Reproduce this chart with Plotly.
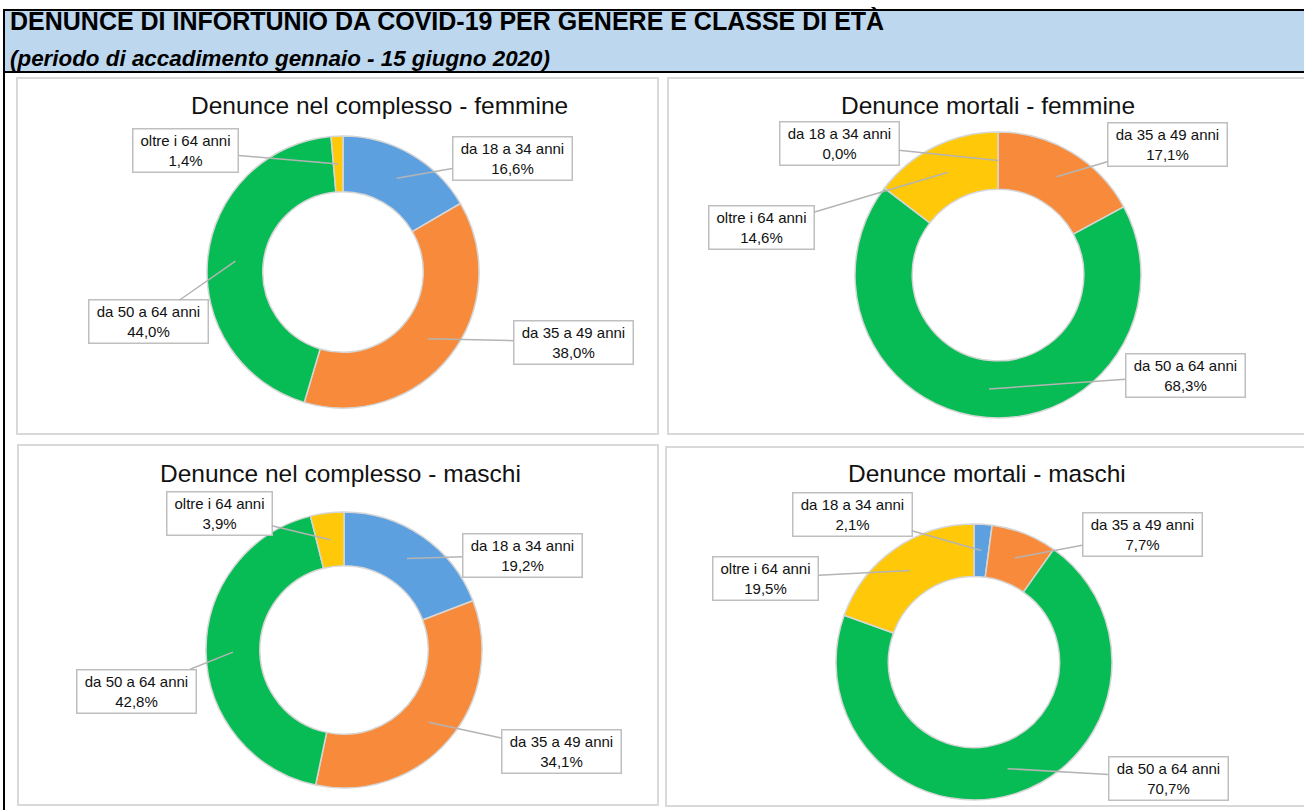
import math
import plotly.graph_objects as go

W, H = 1304, 810

# ---------------- data ----------------
categories = ["da 18 a 34 anni", "da 35 a 49 anni", "da 50 a 64 anni", "oltre i 64 anni"]
femmine_complesso = [16.6, 38.0, 44.0, 1.4]
femmine_mortali = [0.0, 17.1, 68.3, 14.6]
maschi_complesso = [19.2, 34.1, 42.8, 3.9]
maschi_mortali = [2.1, 7.7, 70.7, 19.5]
chart_titles = [
    "Denunce nel complesso - femmine",
    "Denunce mortali - femmine",
    "Denunce nel complesso - maschi",
    "Denunce mortali - maschi",
]
main_title = "DENUNCE DI INFORTUNIO DA COVID-19 PER GENERE E CLASSE DI ETÀ"
subtitle = "(periodo di accadimento gennaio - 15 giugno 2020)"

# ---------------- styles / layout (pixels) ----------------
colors = ["#5DA0E0", "#F78B3B", "#08BC55", "#FFC90A"]
FONT = "Liberation Sans, Arial, sans-serif"

panels = [
    dict(values=femmine_complesso, title=chart_titles[0], rect=(17, 78, 658, 434),
         center=(343, 272), r=136, hole=0.59, title_pos=(379, 105),
         boxes=[(512, 158), (573, 342), (148, 322), (186, 151)]),
    dict(values=femmine_mortali, title=chart_titles[1], rect=(668, 78, 1312, 434),
         center=(998, 275), r=143, hole=0.60, title_pos=(988, 105),
         boxes=[(839, 144), (1167, 144), (1185, 375), (761, 228)]),
    dict(values=maschi_complesso, title=chart_titles[2], rect=(18, 445, 658, 805),
         center=(344, 650), r=138, hole=0.61, title_pos=(340, 473),
         boxes=[(522, 555), (561, 751), (136, 691), (219, 513)]),
    dict(values=maschi_mortali, title=chart_titles[3], rect=(666, 447, 1312, 806),
         center=(974, 662), r=138, hole=0.62, title_pos=(987, 473),
         boxes=[(852, 514), (1142, 534), (1168, 778), (766, 578)]),
]


def px(x):
    return x / W


def py(y):
    return 1 - y / H


fig = go.Figure()
shapes = []
annotations = []

# header band and frame lines
shapes.append(dict(type="rect", xref="paper", yref="paper", x0=px(4), x1=px(1310), y0=py(72), y1=py(10),
                   fillcolor="#BDD7EE", line=dict(color="#000000", width=2), layer="below"))
shapes.append(dict(type="line", xref="paper", yref="paper", x0=px(4), x1=px(4), y0=py(72), y1=py(812),
                   line=dict(color="#000000", width=2)))
annotations.append(dict(text="<b>" + main_title + "</b>", xref="paper", yref="paper", x=px(8), y=py(21),
                        xanchor="left", yanchor="middle", showarrow=False,
                        font=dict(family=FONT, size=25, color="#000000")))
annotations.append(dict(text="<b><i>" + subtitle + "</i></b>", xref="paper", yref="paper", x=px(8), y=py(58),
                        xanchor="left", yanchor="middle", showarrow=False,
                        font=dict(family=FONT, size=22.4, color="#000000")))

for p in panels:
    x0, y0, x1, y1 = p["rect"]
    shapes.append(dict(type="rect", xref="paper", yref="paper", x0=px(x0), x1=px(x1), y0=py(y1), y1=py(y0),
                       line=dict(color="#D9D9D9", width=2), fillcolor="rgba(0,0,0,0)", layer="below"))
    cx, cy = p["center"]
    r = p["r"]
    vals = p["values"]
    fig.add_trace(go.Pie(
        labels=categories, values=vals, hole=p["hole"], sort=False, direction="clockwise",
        rotation=0, textinfo="none", hoverinfo="label+percent", showlegend=False,
        marker=dict(colors=colors, line=dict(color="#D6D6D6", width=1.5)),
        domain=dict(x=[px(cx - r), px(cx + r)], y=[py(cy + r), py(cy - r)]),
    ))
    annotations.append(dict(text=p["title"], xref="paper", yref="paper", x=px(p["title_pos"][0]),
                            y=py(p["title_pos"][1]), xanchor="center", yanchor="middle", showarrow=False,
                            font=dict(family=FONT, size=24.5, color="#111111")))
    total = sum(vals)
    cum = 0.0
    rmid = r * (1 + p["hole"]) / 2
    for i, (cat, v) in enumerate(zip(categories, vals)):
        mid = (cum + v / 2) / total * 2 * math.pi
        cum += v
        tx = cx + rmid * math.sin(mid)
        ty = cy - rmid * math.cos(mid)
        bx, by = p["boxes"][i]
        label = cat + "<br>" + f"{v:.1f}".replace(".", ",") + "%"
        annotations.append(dict(
            text=label, xref="paper", yref="paper", x=px(tx), y=py(ty),
            axref="pixel", ayref="pixel", ax=bx - tx, ay=by - ty,
            showarrow=True, arrowhead=0, arrowwidth=1.5, arrowcolor="#B4B4B4", standoff=0,
            bgcolor="#FFFFFF", bordercolor="#BFBFBF", borderwidth=1.5, borderpad=2,
            width=114 if cat.startswith("da") else 100, height=38, align="center",
            font=dict(family=FONT, size=15, color="#111111"),
        ))

fig.update_layout(
    width=W, height=H, margin=dict(l=0, r=0, t=0, b=0),
    paper_bgcolor="#FFFFFF", plot_bgcolor="#FFFFFF",
    shapes=shapes, annotations=annotations,
)

fig.write_html("out.html", config={"displayModeBar": False},
               post_script="document.body.style.margin='0px';")
